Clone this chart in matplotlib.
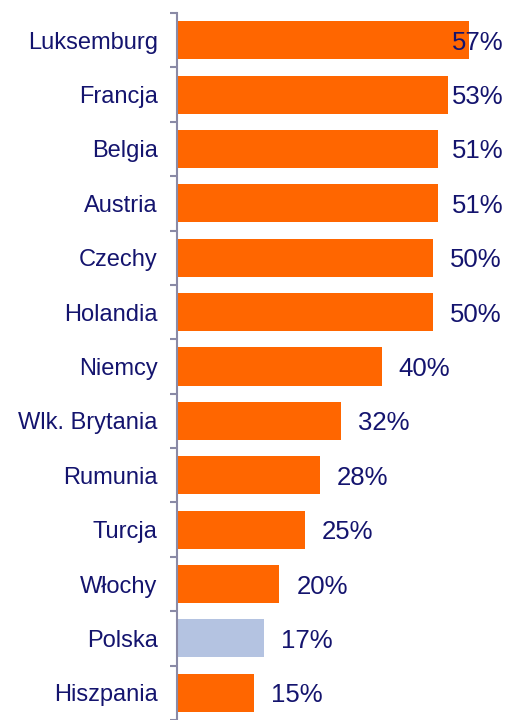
import matplotlib
matplotlib.use("Agg")
import matplotlib.pyplot as plt
import numpy as np

plt.rcParams['font.family'] = ['Liberation Sans', 'DejaVu Sans']

countries = ['Luksemburg', 'Francja', 'Belgia', 'Austria', 'Czechy', 'Holandia',
             'Niemcy', 'Wlk. Brytania', 'Rumunia', 'Turcja', 'Włochy', 'Polska',
             'Hiszpania']
values = [57, 53, 51, 51, 50, 50, 40, 32, 28, 25, 20, 17, 15]
highlight = 'Polska'

orange = '#FF6600'
blue = '#B4C3E1'
navy = '#14146E'
axis_col = '#8A8AA6'

fig = plt.figure(figsize=(5.06, 7.20), dpi=100)
ax = fig.add_axes([0.35, 0.0, 0.65, 0.982])

y = np.arange(len(countries))
colors = [blue if c == highlight else orange for c in countries]
ax.barh(y, values, height=0.7, color=colors)

ax.set_ylim(len(countries) - 0.5, -0.5)
ax.set_xlim(0, 64.3)

# value labels; big ones get pushed against the right edge
for yi, v in zip(y, values):
    ax.text(min(v + 3.3, 53.7), yi, f'{v}%', va='center_baseline', ha='left',
            fontsize=18.5, color=navy)

ax.set_yticks(y)
ax.set_yticklabels(countries, fontsize=17, color=navy)
ax.tick_params(axis='y', which='major', length=0, pad=14)
ax.set_yticks(np.arange(-0.5, len(countries)), minor=True)
ax.tick_params(axis='y', which='minor', length=5, width=1.5, color=axis_col,
               direction='out')

ax.set_xticks([])
for s in ['top', 'right', 'bottom']:
    ax.spines[s].set_visible(False)
ax.spines['left'].set_color(axis_col)
ax.spines['left'].set_linewidth(1.5)

plt.savefig('out.png', dpi=100)
